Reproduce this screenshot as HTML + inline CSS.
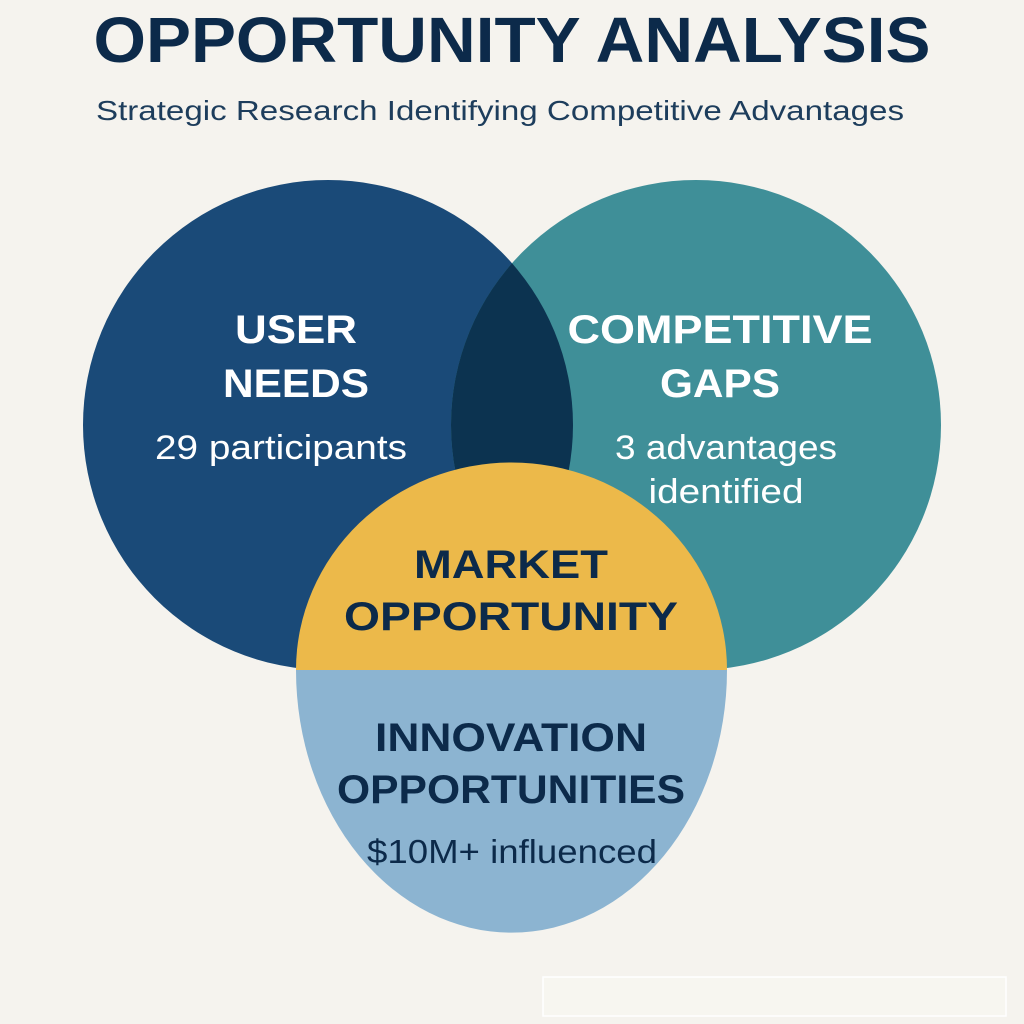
<!DOCTYPE html>
<html><head><meta charset="utf-8"><style>
html,body{margin:0;padding:0;background:#f5f3ee;}
svg{display:block}
text{font-family:"Liberation Sans","DejaVu Sans",sans-serif;}
</style></head><body>
<svg width="1024" height="1024" viewBox="0 0 1024 1024" xmlns="http://www.w3.org/2000/svg">
<rect width="1024" height="1024" fill="#f5f3ee"/>
<text x="512" y="62" text-anchor="middle" font-size="64" font-weight="700" fill="#0c2a4a" textLength="837" lengthAdjust="spacingAndGlyphs">OPPORTUNITY ANALYSIS</text>
<text x="500" y="120" text-anchor="middle" font-size="28" fill="#1d3d5c" textLength="808" lengthAdjust="spacingAndGlyphs">Strategic Research Identifying Competitive Advantages</text>
<defs>
<clipPath id="cl"><circle cx="328" cy="425" r="245"/></clipPath>
</defs>
<circle cx="328" cy="425" r="245" fill="#1a4a78"/>
<circle cx="696" cy="425" r="245" fill="#3f8f98"/>
<circle cx="696" cy="425" r="245" fill="#0c3350" clip-path="url(#cl)"/>
<path d="M296 670 A215 207 0 0 1 727 670 Z" fill="#ecb94a"/>
<path d="M296 670 A215 262 0 0 0 727 670 Z" fill="#8cb4d1"/>
<g fill="#ffffff" text-anchor="middle" font-weight="700" font-size="40">
<text x="296" y="343" textLength="122" lengthAdjust="spacingAndGlyphs">USER</text>
<text x="296" y="397" textLength="146" lengthAdjust="spacingAndGlyphs">NEEDS</text>
<text x="720" y="343" textLength="305" lengthAdjust="spacingAndGlyphs">COMPETITIVE</text>
<text x="720" y="397" textLength="120" lengthAdjust="spacingAndGlyphs">GAPS</text>
</g>
<g fill="#ffffff" text-anchor="middle" font-size="34">
<text x="281" y="459" textLength="252" lengthAdjust="spacingAndGlyphs">29 participants</text>
<text x="726" y="459" textLength="222" lengthAdjust="spacingAndGlyphs">3 advantages</text>
<text x="726" y="503" textLength="155" lengthAdjust="spacingAndGlyphs">identified</text>
</g>
<g fill="#0c2a4a" text-anchor="middle" font-weight="700" font-size="40">
<text x="511" y="578" textLength="194" lengthAdjust="spacingAndGlyphs">MARKET</text>
<text x="511" y="630" textLength="334" lengthAdjust="spacingAndGlyphs">OPPORTUNITY</text>
<text x="511" y="751" textLength="272" lengthAdjust="spacingAndGlyphs">INNOVATION</text>
<text x="511" y="803" textLength="348" lengthAdjust="spacingAndGlyphs">OPPORTUNITIES</text>
</g>
<text x="512" y="863" text-anchor="middle" font-size="33" fill="#0c2a4a" textLength="290" lengthAdjust="spacingAndGlyphs">$10M+ influenced</text>
<rect x="543" y="977" width="463" height="39" fill="#f7f6f0" stroke="#ffffff" stroke-width="1.5"/>
</svg>
</body></html>
